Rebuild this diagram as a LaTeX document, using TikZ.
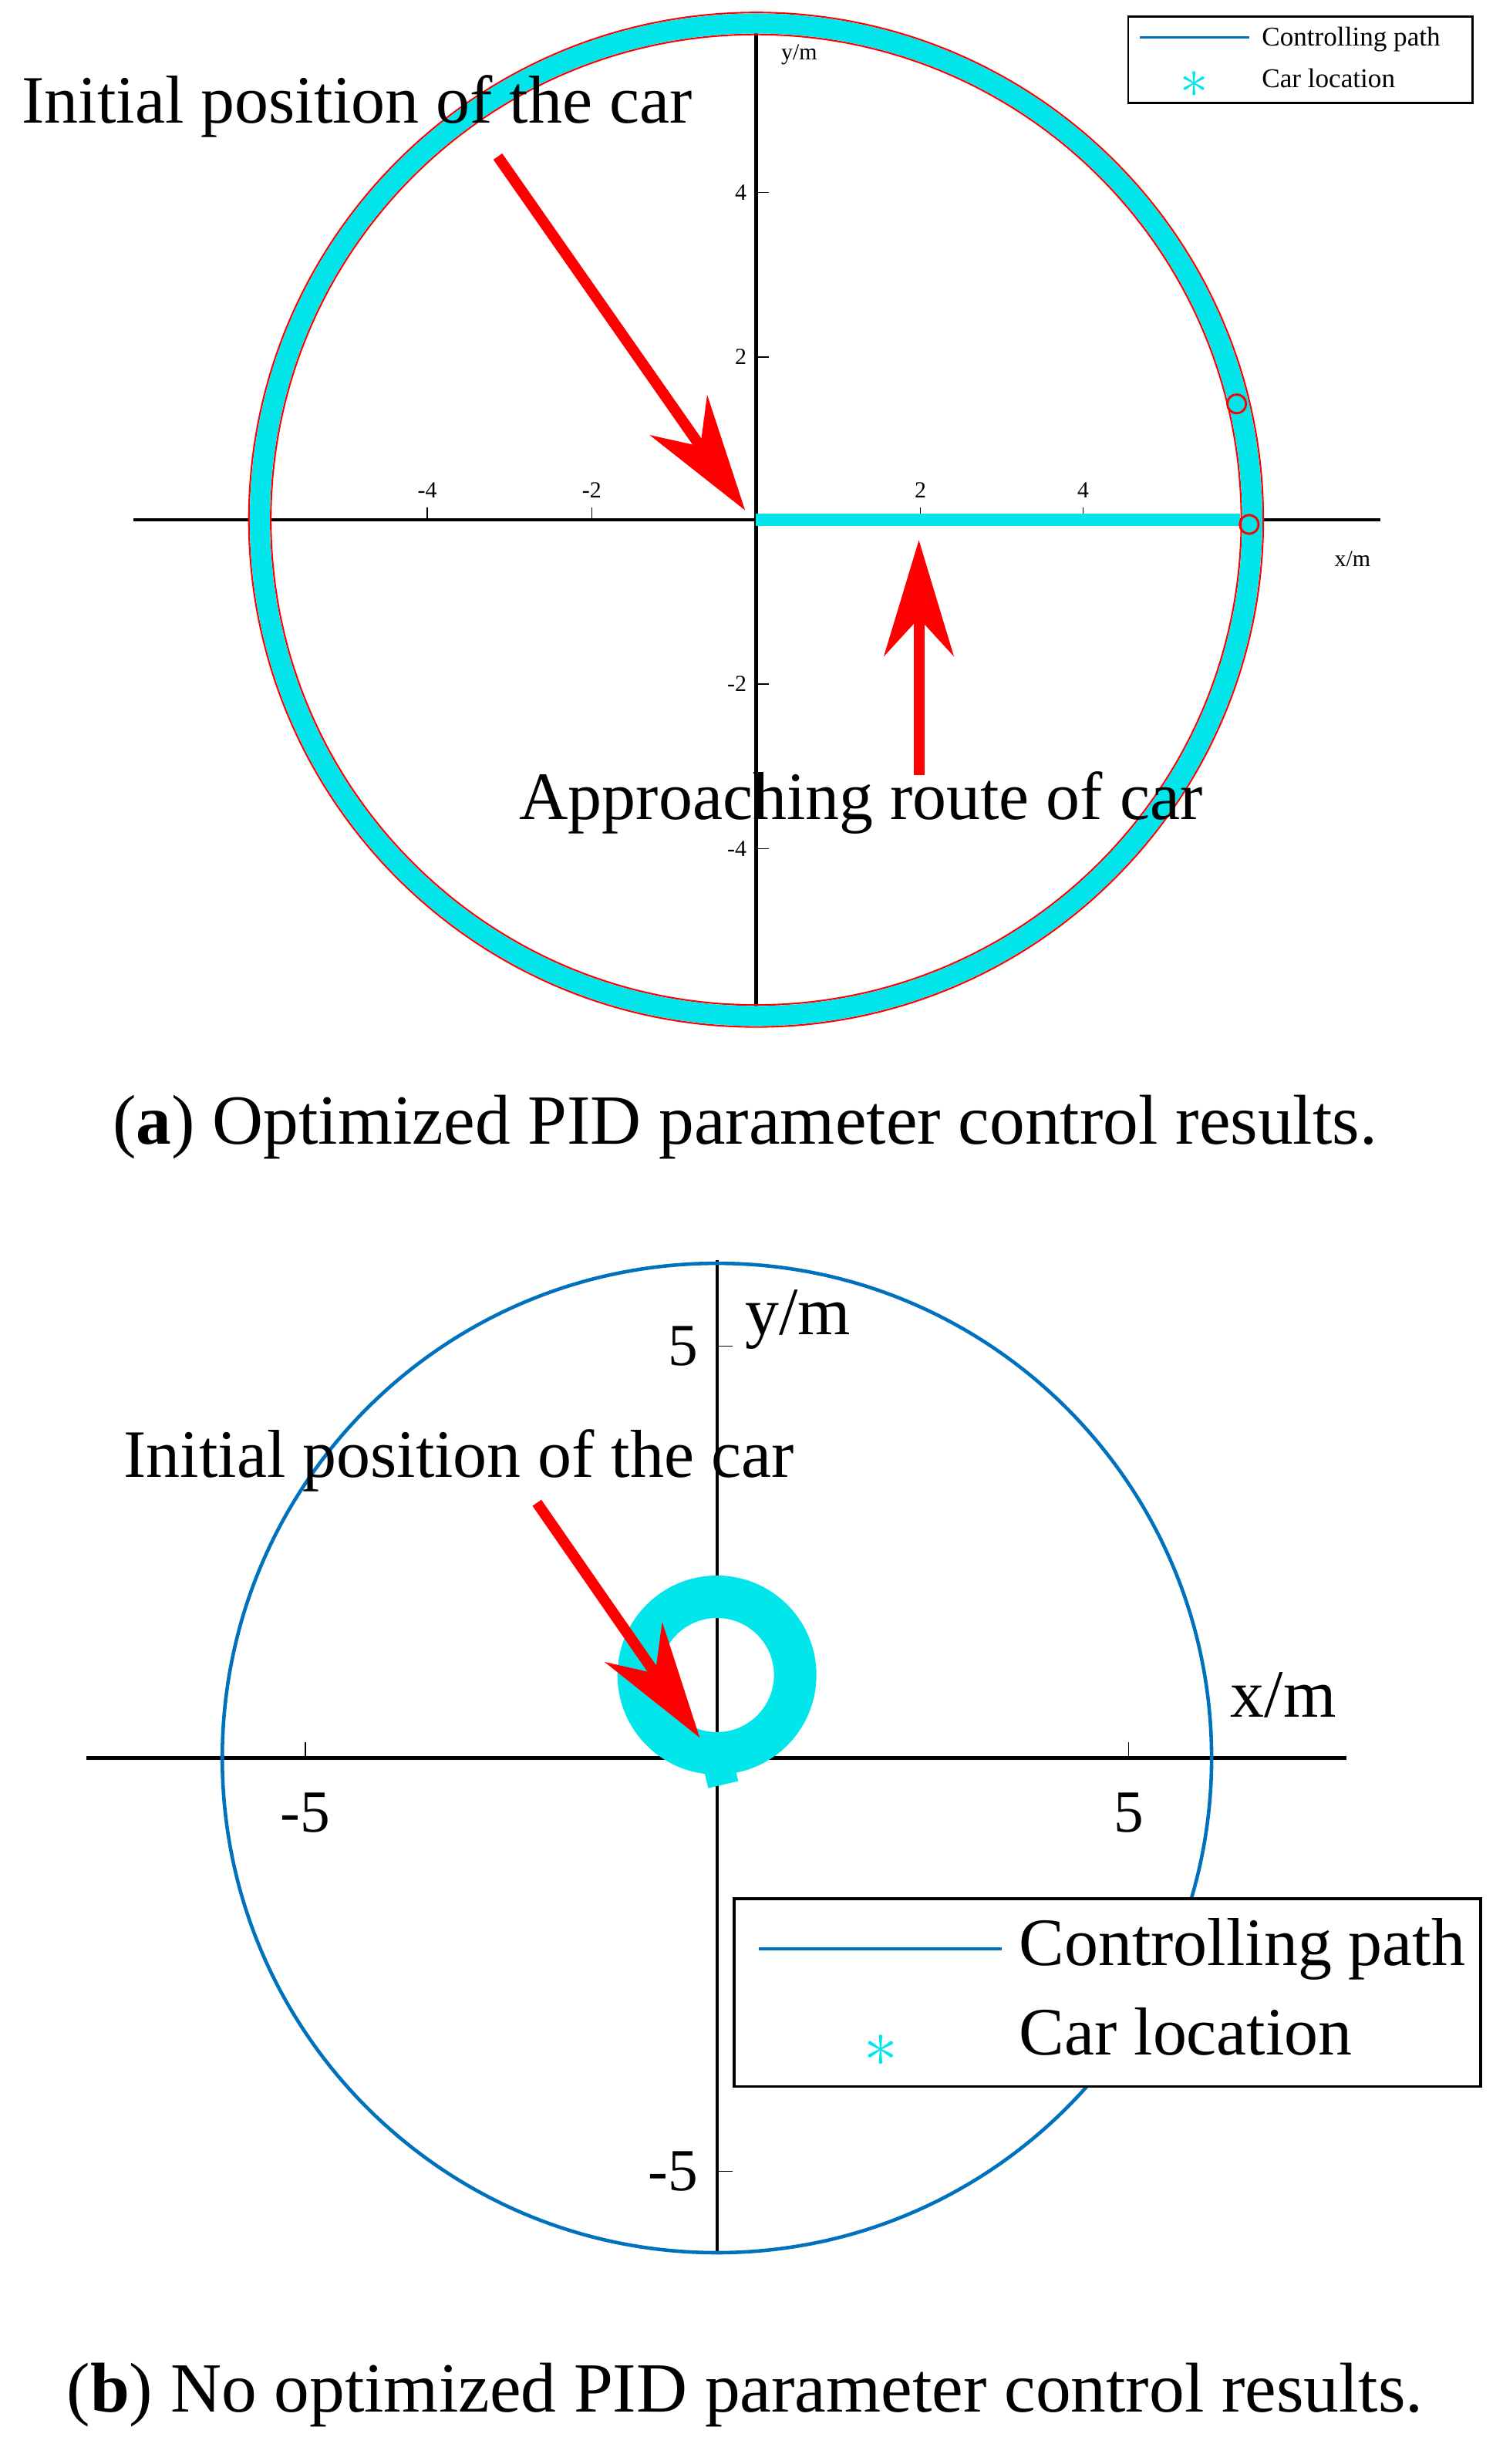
\documentclass[tikz,border=0pt]{standalone}
\usepackage{fontspec}
\setmainfont{Liberation Serif}
\usetikzlibrary{arrows.meta}
\definecolor{cyanc}{RGB}{0,230,235}
\definecolor{bluec}{RGB}{0,114,189}
\begin{document}
\begin{tikzpicture}[x=0.0203cm,y=-0.0203cm,
 ax/.style={line width=1.2pt,black},
 big/.style={font=\fontsize{25}{30}\selectfont},
 mid/.style={font=\fontsize{22}{26}\selectfont},
 sm/.style={font=\fontsize{8.5}{10}\selectfont},
 redarr/.style={red,line width=0.14cm,-{Stealth[length=1.5cm,width=0.9cm]}},
 captxt/.style={font=\fontsize{26}{31}\selectfont}]
\useasboundingbox (0,0) rectangle (960,1574);
% ---------- (a)
\draw[ax] (85,332) -- (882,332);
\draw[ax] (483,10) -- (483,650);
\foreach \x/\l in {273/-4,378/-2,588/2,692/4,797/6}{\draw (\x,332)--(\x,324); \node[sm,above] at (\x,324) {\l};}
\foreach \y/\l in {123/4,228/2,437/-2,542/-4}{\draw (483,\y)--(491,\y); \node[sm,left] at (483,\y) {\l};}
\node[sm,anchor=west] at (493,35) {y/m};
\node[sm] at (864,357) {x/m};
\draw[red,line width=0.6pt] (483,332) circle (324);
\draw[red,line width=0.6pt] (483,332) circle (310);
\draw[cyanc,line width=0.26cm] (483,332) circle (317);
\draw[cyanc,line width=0.16cm] (483,332) -- (792,332);
\draw[red,line width=0.8pt] (790,258) circle (6);
\draw[red,line width=0.8pt] (798,335) circle (6);
\node[big,anchor=west] (ia) at (8,68) {Initial position of the car};
\node[big] (ar) at (550,513) {Approaching route of car};
\coordinate (a0) at (476,326);
\coordinate (a1) at (587,345);
\draw[redarr] (318,100) -- (a0);
\draw[redarr] (587,495) -- (a1);
\node[draw,fill=white,minimum width=220*0.0203cm,minimum height=55*0.0203cm,anchor=north west,line width=0.8pt] (lga) at (720,10) {};
\draw[bluec,line width=1pt] (728,24) -- (798,24);
\node[font=\fontsize{10}{11}\selectfont,anchor=west] at (800,25) {Controlling path};
\node[cyanc,font=\fontsize{22}{22}\selectfont] at (763,54) {$\ast$};
\node[font=\fontsize{10}{11}\selectfont,anchor=west] at (800,50) {Car location};
\node[captxt] (ca) at (476,720) {(\textbf{a}) Optimized PID parameter control results.};
% ---------- (b)
\draw[ax] (55,1123) -- (860,1123);
\draw[ax] (458,805) -- (458,1440);
\foreach \x/\l in {195/-5,721/5}{\draw (\x,1123)--(\x,1113); \node[mid] at (\x,1158) {\l};}
\foreach \y/\l in {860/5,1387/-5}{\draw (458,\y)--(468,\y); \node[mid,left] at (452,\y) {\l};}
\node[big,anchor=west] at (470,843) {y/m};
\node[big,anchor=west] at (780,1083) {x/m};
\draw[bluec,line width=1.3pt] (458,1123) circle (316);
\draw[cyanc,line width=0.55cm] (458,1070) circle (50);
\draw[cyanc,line width=0.4cm] (455,1110) -- (462,1140);
\node[big,anchor=west] (ib) at (73,933) {Initial position of the car};
\coordinate (b0) at (447,1110);
\draw[redarr] (343,960) -- (b0);
\node[draw,fill=white,minimum width=477*0.0203cm,minimum height=120*0.0203cm,anchor=north west,line width=1pt] (lgb) at (468,1212) {};
\draw[bluec,line width=1.3pt] (485,1245) -- (640,1245);
\node[big,anchor=west] at (645,1245) {Controlling path};
\node[cyanc,font=\fontsize{60}{60}\selectfont] at (563,1310) {$\ast$};
\node[big,anchor=west] at (645,1298) {Car location};
\node[captxt] (cb) at (476,1530) {(\textbf{b}) No optimized PID parameter control results.};
\end{tikzpicture}
\end{document}
